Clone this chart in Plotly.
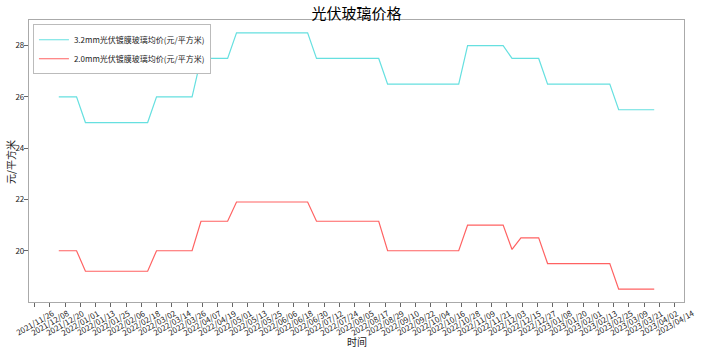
import pandas as pd
import plotly.graph_objects as go

# weekly observation dates
dates = pd.date_range("2021-12-15", periods=68, freq="7D")

price_32mm = [26, 26, 26,
              25, 25, 25, 25, 25, 25, 25, 25,
              26, 26, 26, 26, 26,
              27.5, 27.5, 27.5, 27.5,
              28.5, 28.5, 28.5, 28.5, 28.5, 28.5, 28.5, 28.5, 28.5,
              27.5, 27.5, 27.5, 27.5, 27.5, 27.5, 27.5, 27.5,
              26.5, 26.5, 26.5, 26.5, 26.5, 26.5, 26.5, 26.5, 26.5,
              28, 28, 28, 28, 28,
              27.5, 27.5, 27.5, 27.5,
              26.5, 26.5, 26.5, 26.5, 26.5, 26.5, 26.5, 26.5,
              25.5, 25.5, 25.5, 25.5, 25.5]

price_20mm = [20, 20, 20,
              19.2, 19.2, 19.2, 19.2, 19.2, 19.2, 19.2, 19.2,
              20, 20, 20, 20, 20,
              21.15, 21.15, 21.15, 21.15,
              21.9, 21.9, 21.9, 21.9, 21.9, 21.9, 21.9, 21.9, 21.9,
              21.15, 21.15, 21.15, 21.15, 21.15, 21.15, 21.15, 21.15,
              20, 20, 20, 20, 20, 20, 20, 20, 20,
              21, 21, 21, 21, 21,
              20.05,
              20.5, 20.5, 20.5,
              19.5, 19.5, 19.5, 19.5, 19.5, 19.5, 19.5, 19.5,
              18.5, 18.5, 18.5, 18.5, 18.5]

series_names = ["3.2mm光伏镀膜玻璃均价(元/平方米)", "2.0mm光伏镀膜玻璃均价(元/平方米)"]
series_colors = ["#66e0e0", "#ff6262"]

tick_dates = pd.date_range("2021-11-26", "2023-04-14", freq="12D")
tick_labels = [d.strftime("%Y/%m/%d") for d in tick_dates]
y_ticks = [20, 22, 24, 26, 28]

FONT = "Noto Sans CJK SC, DejaVu Sans, sans-serif"

fig = go.Figure()
for vals, name, col in zip([price_32mm, price_20mm], series_names, series_colors):
    fig.add_trace(go.Scatter(x=dates, y=vals, mode="lines", name=name,
                             line=dict(color=col, width=1.2)))

for d, lab in zip(tick_dates, tick_labels):
    fig.add_annotation(x=d, y=0, xref="x", yref="paper", text=lab,
                       showarrow=False, textangle=-30, xanchor="center",
                       yanchor="top", yshift=-4, borderpad=0,
                       font=dict(family=FONT, size=8, color="#222"))

# axis titles
fig.add_annotation(x=0.5, y=0, xref="paper", yref="paper", text="时间",
                   showarrow=False, xanchor="center", yanchor="middle", yshift=-39,
                   font=dict(family=FONT, size=10, color="#222"))
fig.add_annotation(x=0, y=0.5, xref="paper", yref="paper", text="元/平方米",
                   showarrow=False, textangle=-90, xanchor="center", yanchor="middle",
                   xshift=-19, yshift=-1, font=dict(family=FONT, size=10, color="#222"))

span = dates[-1] - dates[0]
xr = [dates[0] - span * 0.05, dates[-1] + span * 0.05]

fig.update_layout(
    width=703, height=350,
    margin=dict(l=29, r=19, t=20, b=48, autoexpand=False),
    paper_bgcolor="white", plot_bgcolor="white",
    font=dict(family=FONT, size=9, color="#222"),
    title=dict(text="光伏玻璃价格", x=0.507, xanchor="center", xref="container",
               y=0.962, yref="container", yanchor="middle",
               font=dict(family=FONT, size=15, color="black")),
    showlegend=True,
    legend=dict(x=0.006, y=0.985, xanchor="left", yanchor="top",
                bgcolor="white", bordercolor="#bbbbbb", borderwidth=1,
                font=dict(family=FONT, size=8, color="#222"),
                itemwidth=30, tracegroupgap=0),
    xaxis=dict(range=xr, tickvals=list(tick_dates), showticklabels=False,
               ticks="outside", ticklen=4, tickcolor="#666", automargin=False,
               showline=True, linecolor="#aaaaaa", linewidth=1.2, mirror=True,
               showgrid=False, zeroline=False),
    yaxis=dict(range=[18, 29], tickvals=y_ticks, ticks="outside", ticklen=4, tickcolor="#666",
               automargin=False, ticklabelstandoff=-2,
               showline=True, linecolor="#aaaaaa", linewidth=1.2, mirror=True,
               showgrid=False, zeroline=False,
               tickfont=dict(family=FONT, size=8, color="#222")),
)

fig.write_html("out.html")
